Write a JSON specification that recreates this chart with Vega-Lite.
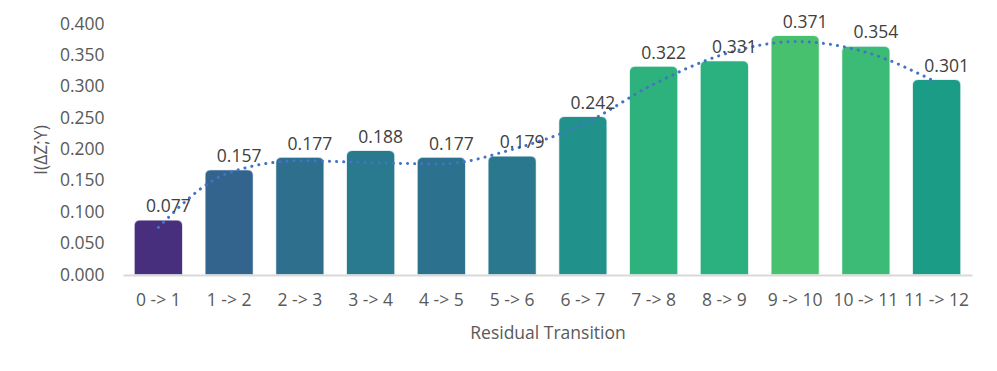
{
  "$schema": "https://vega.github.io/schema/vega-lite/v6.json",
  "width": 849,
  "height": 251,
  "autosize": {"type": "none"},
  "padding": {"left": 123, "top": 24, "right": 25, "bottom": 96},
  "background": "white",
  "config": {
    "view": {"stroke": null},
    "font": "Open Sans",
    "axis": {"labelFont": "Open Sans", "titleFont": "Open Sans", "labelFontSize": 17.5, "titleFontSize": 17.5, "labelColor": "#595959", "titleColor": "#595959", "titleFontWeight": "normal", "grid": false, "ticks": false, "labelOverlap": false}
  },
  "data": {
    "values": [
      {"t": "0 -> 1", "v": 0.077, "bar": 0.088, "trend": 0.076},
      {"t": "1 -> 2", "v": 0.157, "bar": 0.168, "trend": 0.163},
      {"t": "2 -> 3", "v": 0.177, "bar": 0.188, "trend": 0.182},
      {"t": "3 -> 4", "v": 0.188, "bar": 0.199, "trend": 0.179},
      {"t": "4 -> 5", "v": 0.177, "bar": 0.188, "trend": 0.177},
      {"t": "5 -> 6", "v": 0.179, "bar": 0.190, "trend": 0.200},
      {"t": "6 -> 7", "v": 0.242, "bar": 0.253, "trend": 0.240},
      {"t": "7 -> 8", "v": 0.322, "bar": 0.333, "trend": 0.304},
      {"t": "8 -> 9", "v": 0.331, "bar": 0.342, "trend": 0.352},
      {"t": "9 -> 10", "v": 0.371, "bar": 0.382, "trend": 0.372},
      {"t": "10 -> 11", "v": 0.354, "bar": 0.365, "trend": 0.355},
      {"t": "11 -> 12", "v": 0.301, "bar": 0.312, "trend": 0.307}
    ]
  },
  "encoding": {
    "x": {
      "field": "t", "type": "nominal", "sort": null,
      "scale": {"paddingInner": 0.31, "paddingOuter": 0.155},
      "axis": {"title": "Residual Transition", "labelAngle": 0, "labelPadding": 16, "titlePadding": 16, "domainColor": "#d9d9d9", "domainWidth": 2, "zindex": 1}
    },
    "y": {
      "field": "bar", "type": "quantitative",
      "scale": {"domain": [0, 0.4], "nice": false},
      "axis": {"title": "I(ΔZ;Y)", "format": ".3f", "values": [0, 0.05, 0.1, 0.15, 0.2, 0.25, 0.3, 0.35, 0.4], "domain": false, "labelPadding": 19, "titlePadding": 9, "labelOverlap": false}
    }
  },
  "layer": [
    {
      "mark": {"type": "bar", "cornerRadiusTopLeft": 6, "cornerRadiusTopRight": 6, "stroke": "white", "strokeOpacity": 0.55, "strokeWidth": 1.5},
      "encoding": {
        "color": {
          "field": "t", "type": "nominal", "legend": null,
          "scale": {
            "domain": ["0 -> 1", "1 -> 2", "2 -> 3", "3 -> 4", "4 -> 5", "5 -> 6", "6 -> 7", "7 -> 8", "8 -> 9", "9 -> 10", "10 -> 11", "11 -> 12"],
            "range": ["#472f7d", "#32648e", "#2e6f8e", "#297a8e", "#2c728e", "#2a788e", "#21918c", "#2db27d", "#2bb07f", "#48c16e", "#3bbb75", "#1a9c86"]
          }
        }
      }
    },
    {
      "mark": {"type": "line", "color": "#4472c4", "strokeWidth": 3, "strokeCap": "round", "strokeDash": [0.1, 7], "interpolate": "monotone"},
      "encoding": {
        "y": {
          "field": "trend", "type": "quantitative",
          "axis": {"title": "I(ΔZ;Y)", "format": ".3f", "values": [0, 0.05, 0.1, 0.15, 0.2, 0.25, 0.3, 0.35, 0.4], "domain": false, "labelPadding": 19, "titlePadding": 9, "labelOverlap": false}
        }
      }
    },
    {
      "mark": {"type": "text", "font": "Open Sans", "fontSize": 17.5, "color": "#404040", "baseline": "alphabetic", "dy": -7.5, "dx": 10},
      "encoding": {
        "text": {"field": "v", "type": "quantitative", "format": ".3f"}
      }
    }
  ]
}
